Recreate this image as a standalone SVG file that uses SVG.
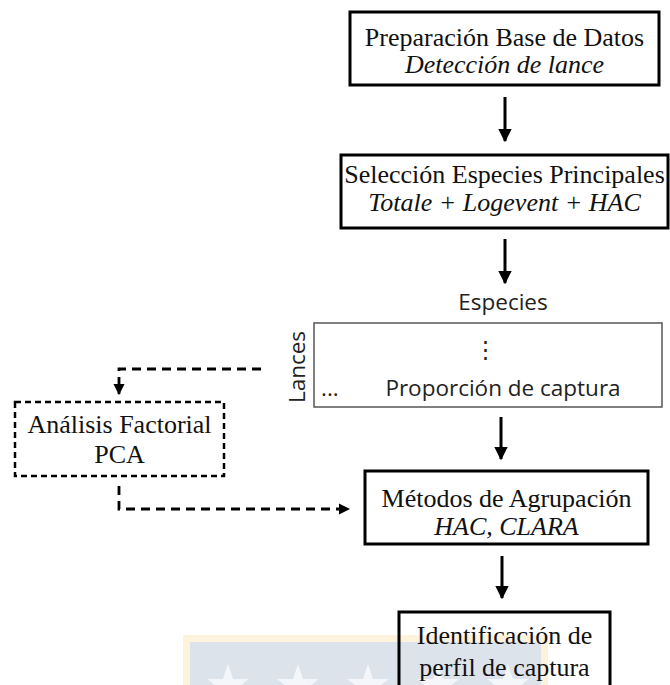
<svg xmlns="http://www.w3.org/2000/svg" width="670" height="685" viewBox="0 0 670 685">
<style>
.box{fill:none;stroke:#000;stroke-width:3}
.dbox{fill:none;stroke:#000;stroke-width:2.5;stroke-dasharray:6 4}
.mat{fill:none;stroke:#555;stroke-width:1.5}
.serif{font-family:"Liberation Serif","Times New Roman",serif;font-size:26px;fill:#111;text-anchor:middle}
.it{font-style:italic}
.sans{font-family:"Open Sans","Noto Sans",sans-serif;font-size:22.5px;fill:#222}
.arr{stroke:#000;stroke-width:3;fill:none}
.darr{stroke:#000;stroke-width:2.8;fill:none;stroke-dasharray:9 6}
</style>
<defs>
<marker id="ah" viewBox="0 0 10 10" refX="9" refY="5" markerWidth="4.5" markerHeight="4.5" orient="auto" markerUnits="strokeWidth"><path d="M0,0 L10,5 L0,10 z" fill="#000"/></marker>
<marker id="dh" viewBox="0 0 10 10" refX="9" refY="5" markerWidth="4" markerHeight="4" orient="auto" markerUnits="strokeWidth"><path d="M0,0 L10,5 L0,10 z" fill="#000"/></marker>
</defs>
<g id="watermark">
<rect x="183" y="635" width="365" height="50" fill="#fdf3dc"/>
<rect x="190" y="642" width="351" height="43" fill="#dde3eb"/>
<g fill="#f4f6f9">
<polygon points="228,664 233,679 249,679 236,689 220,689 207,679 223,679"/>
<polygon points="298,664 303,679 319,679 306,689 290,689 277,679 293,679"/>
<polygon points="368,664 373,679 389,679 376,689 360,689 347,679 363,679"/>
<polygon points="438,664 443,679 459,679 446,689 430,689 417,679 433,679"/>
<polygon points="508,664 513,679 529,679 516,689 500,689 487,679 503,679"/>
</g>
</g>
<g id="n1">
<rect class="box" x="350" y="12" width="309" height="73"/>
<text class="serif" x="504.5" y="46">Preparación Base de Datos</text>
<text class="serif it" x="504.5" y="73">Detección de lance</text>
</g>
<g id="n2">
<rect class="box" x="341" y="155" width="327" height="73"/>
<text class="serif" x="504.5" y="183">Selección Especies Principales</text>
<text class="serif it" x="504.5" y="211">Totale + Logevent + HAC</text>
</g>
<g id="n3">
<text class="sans" x="503" y="310" text-anchor="middle">Especies</text>
<text class="sans" transform="translate(305,367) rotate(-90)" text-anchor="middle">Lances</text>
<rect class="mat" x="314" y="323" width="348" height="84"/>
<text class="sans" x="485" y="357" text-anchor="middle">⋮</text>
<text class="sans" x="321" y="396">...</text>
<text class="sans" x="503" y="396" text-anchor="middle">Proporción de captura</text>
</g>
<g id="n4">
<rect class="dbox" x="15" y="402" width="209" height="74"/>
<text class="serif" x="119.5" y="433">Análisis Factorial</text>
<text class="serif" x="119.5" y="463">PCA</text>
</g>
<g id="n5">
<rect class="box" x="365" y="471" width="283" height="73"/>
<text class="serif" x="506.5" y="507">Métodos de Agrupación</text>
<text class="serif it" x="506.5" y="535">HAC, CLARA</text>
</g>
<g id="n6">
<rect class="box" x="399" y="612" width="211" height="90"/>
<text class="serif" x="504.5" y="644">Identificación de</text>
<text class="serif" x="504.5" y="676">perfil de captura</text>
</g>
<g id="connectors">
<line class="arr" x1="505" y1="97" x2="505" y2="141" marker-end="url(#ah)"/>
<line class="arr" x1="505" y1="239" x2="505" y2="283" marker-end="url(#ah)"/>
<line class="arr" x1="501" y1="417" x2="501" y2="459" marker-end="url(#ah)"/>
<line class="arr" x1="502" y1="556" x2="502" y2="598" marker-end="url(#ah)"/>
<polyline class="darr" points="261,369 119,369 119,394" marker-end="url(#dh)"/>
<polyline class="darr" points="119,486 119,509 349,509" marker-end="url(#dh)"/>
</g>
</svg>
